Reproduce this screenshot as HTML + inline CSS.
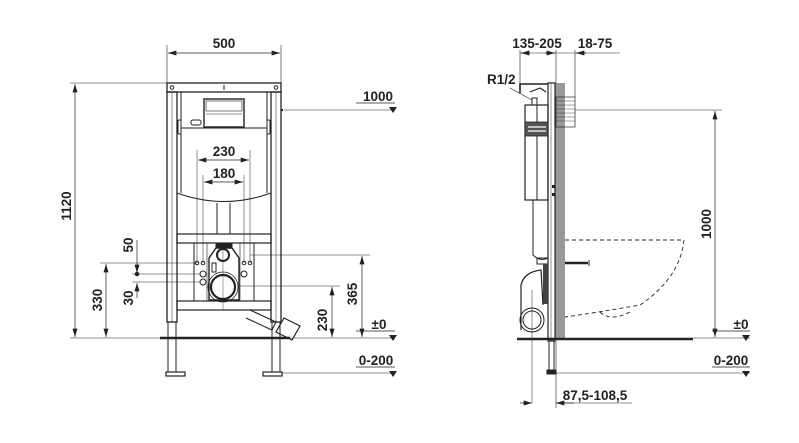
<!DOCTYPE html>
<html><head><meta charset="utf-8"><style>
html,body{margin:0;padding:0;background:#fff}
svg{display:block}
text{font-family:"Liberation Sans",sans-serif;font-weight:bold;font-size:13.5px;fill:#222}
</style></head><body>
<svg width="799" height="443" viewBox="0 0 799 443" xmlns="http://www.w3.org/2000/svg">
<defs>
<marker id="a" viewBox="0 0 10 6" refX="10" refY="3" markerWidth="9" markerHeight="5" orient="auto-start-reverse" markerUnits="userSpaceOnUse"><path d="M0,0L10,3L0,6z" fill="#222"/></marker>
</defs>
<g stroke="#222" fill="none" stroke-width="1">
<!-- ===== LEFT VIEW ===== -->
<!-- dimension 500 -->
<line x1="167" y1="45" x2="167" y2="83" stroke-width="0.6"/>
<line x1="281" y1="45" x2="281" y2="83" stroke-width="0.6"/>
<line x1="168" y1="53" x2="280" y2="53" stroke-width="0.7" marker-start="url(#a)" marker-end="url(#a)"/>
<!-- 1120 -->
<line x1="70" y1="83" x2="167" y2="83" stroke-width="0.6"/>
<line x1="70" y1="338" x2="160" y2="338" stroke-width="0.6"/>
<line x1="75" y1="84" x2="75" y2="337" stroke-width="0.7" marker-start="url(#a)" marker-end="url(#a)"/>
<!-- frame -->
<rect x="167" y="83" width="114" height="9" stroke-width="1.3"/>
<circle cx="172" cy="87.5" r="1.8"/><circle cx="276" cy="87.5" r="1.8"/>
<line x1="224" y1="85" x2="224" y2="90"/>
<rect x="167" y="92" width="10" height="230" stroke-width="1.3"/>
<rect x="271" y="92" width="10" height="230" stroke-width="1.3"/>
<line x1="172" y1="92" x2="172" y2="322" stroke-width="0.5"/>
<line x1="276" y1="92" x2="276" y2="322" stroke-width="0.5"/>
<line x1="177" y1="92" x2="177" y2="301"/>
<line x1="271" y1="92" x2="271" y2="301"/>
<rect x="178" y="120" width="3" height="14" rx="1"/>
<rect x="267" y="120" width="3" height="14" rx="1"/>
<line x1="282" y1="109" x2="282" y2="111" stroke-width="2"/>
<!-- cistern -->
<line x1="181" y1="92" x2="181" y2="193"/>
<line x1="267" y1="92" x2="267" y2="193"/>
<line x1="181" y1="128" x2="267" y2="128"/>
<rect x="204" y="99" width="40" height="28" stroke-width="1.4"/>
<rect x="206" y="101" width="36" height="10" stroke-width="0.6"/>
<line x1="206" y1="114" x2="242" y2="114" stroke-width="0.6"/>
<rect x="191" y="120" width="10" height="5" rx="2"/>
<path d="M177,193 Q224,210 271,193"/>
<line x1="217" y1="203" x2="217" y2="234"/>
<line x1="230" y1="203" x2="230" y2="234"/>
<!-- crossbars -->
<rect x="177" y="234" width="94" height="9" stroke-width="1.2"/>
<rect x="177" y="301" width="94" height="9" stroke-width="1.2"/>
<!-- inner bracket -->
<line x1="194" y1="243" x2="194" y2="301"/><line x1="254" y1="243" x2="254" y2="301"/>
<line x1="207" y1="243" x2="207" y2="301" stroke-width="0.6"/><line x1="240" y1="243" x2="240" y2="301" stroke-width="0.6"/>
<path d="M209,300 L209,258 L216,248 L232,248 L239,258 L239,300 Z" stroke-width="1.4"/>
<rect x="216" y="243" width="16" height="5" fill="#222"/>
<circle cx="223" cy="255" r="6" stroke-width="2"/>
<circle cx="223" cy="287" r="12" stroke-width="2.2"/>
<circle cx="223" cy="287" r="15" stroke-width="0.8"/>
<circle cx="197" cy="263" r="1.8"/><circle cx="203" cy="263" r="1.8"/>
<circle cx="244" cy="263" r="1.8"/><circle cx="250" cy="263" r="1.8"/>
<circle cx="203" cy="274" r="3"/><circle cx="203" cy="282" r="3"/>
<circle cx="244" cy="274" r="3"/>
<rect x="212" y="263" width="4" height="9"/>
<line x1="223" y1="250" x2="223" y2="310" stroke-width="0.4"/>
<!-- outlet pipe -->
<path d="M250,310 L276,322 L272,330 L246,318" stroke-width="1.1"/>
<path d="M284,318 L300,326 L292,340 L276,332 Z" stroke-width="1.2"/>
<!-- floor + legs -->
<line x1="160" y1="338" x2="290" y2="338" stroke-width="2.5"/>
<line x1="290" y1="338" x2="395" y2="338" stroke-width="0.6"/>
<line x1="168" y1="322" x2="168" y2="372"/><line x1="176" y1="322" x2="176" y2="372"/>
<line x1="272" y1="322" x2="272" y2="372"/><line x1="280" y1="322" x2="280" y2="372"/>
<rect x="166" y="372" width="19" height="4" stroke-width="1.2"/>
<rect x="263" y="372" width="19" height="4" stroke-width="1.2"/>
<line x1="282" y1="373" x2="395" y2="373" stroke-width="0.6"/>
<!-- 1000 -->
<line x1="284" y1="110" x2="395" y2="110" stroke-width="0.6"/>
<line x1="356" y1="103" x2="395" y2="103" stroke-width="0.7"/>
<!-- ±0 / 0-200 underline -->
<line x1="356" y1="331" x2="395" y2="331" stroke-width="0.7"/>
<line x1="356" y1="367" x2="395" y2="367" stroke-width="0.7"/>
<!-- 230/180 -->
<line x1="197" y1="150" x2="197" y2="263" stroke-width="0.5"/>
<line x1="250" y1="150" x2="250" y2="263" stroke-width="0.5"/>
<line x1="203" y1="175" x2="203" y2="263" stroke-width="0.5"/>
<line x1="244" y1="175" x2="244" y2="263" stroke-width="0.5"/>
<line x1="198" y1="160" x2="249" y2="160" stroke-width="0.7" marker-start="url(#a)" marker-end="url(#a)"/>
<line x1="204" y1="182" x2="243" y2="182" stroke-width="0.7" marker-start="url(#a)" marker-end="url(#a)"/>
<!-- left small dims -->
<line x1="100" y1="263" x2="197" y2="263" stroke-width="0.5"/>
<line x1="132" y1="274" x2="200" y2="274" stroke-width="0.5"/>
<line x1="132" y1="282" x2="200" y2="282" stroke-width="0.5"/>
<line x1="106" y1="264" x2="106" y2="337" stroke-width="0.7" marker-start="url(#a)" marker-end="url(#a)"/>
<line x1="137" y1="240" x2="137" y2="273" stroke-width="0.7" marker-end="url(#a)"/>
<line x1="137" y1="298" x2="137" y2="283" stroke-width="0.7" marker-end="url(#a)"/>
<circle cx="137" cy="274" r="1.8" fill="#222"/>
<!-- right small dims -->
<line x1="250" y1="255" x2="370" y2="255" stroke-width="0.5"/>
<line x1="240" y1="286" x2="340" y2="286" stroke-width="0.5"/>
<line x1="362" y1="256" x2="362" y2="337" stroke-width="0.7" marker-start="url(#a)" marker-end="url(#a)"/>
<line x1="332" y1="287" x2="332" y2="337" stroke-width="0.7" marker-start="url(#a)" marker-end="url(#a)"/>

<!-- ===== RIGHT VIEW ===== -->
<rect x="555" y="83" width="10" height="256" fill="#999" stroke="none"/>
<rect x="548" y="83" width="7" height="258" fill="#fff" stroke-width="1.2"/>
<line x1="551" y1="83" x2="551" y2="341" stroke-width="0.5"/>
<path d="M520,93 L520,84 L548,84" stroke-width="1.6"/>
<path d="M530,92 L540,88 L546,92" stroke-width="1.2"/>
<rect x="525" y="105" width="23" height="95" stroke-width="1.2"/>
<line x1="537" y1="105" x2="537" y2="200"/>
<rect x="525" y="122" width="23" height="14" fill="#555" stroke-width="0.8"/>
<line x1="528" y1="127" x2="546" y2="127" stroke="#fff" stroke-width="1.2"/>
<line x1="528" y1="131" x2="546" y2="131" stroke="#fff" stroke-width="1.2"/>
<rect x="532" y="98" width="5" height="7"/>
<path d="M533,200 L533,255 Q540,262 548,258 L548,200"/>
<rect x="537" y="258" width="11" height="6"/>
<rect x="543" y="264" width="5" height="40" fill="#444" stroke="none"/>
<path d="M521,330 L521,285 Q524,272 541,270 L543,305" stroke-width="1.2"/>
<ellipse cx="532" cy="320" rx="12" ry="12"/>
<ellipse cx="532" cy="320" rx="9" ry="9"/>
<line x1="532" y1="290" x2="532" y2="403" stroke-width="0.5"/>
<rect x="552" y="185" width="3" height="3" fill="#222" stroke="none"/>
<rect x="552" y="193" width="3" height="3" fill="#222" stroke="none"/>
<!-- hatched flush box -->
<rect x="556" y="97" width="19" height="30" stroke-width="0.7"/>
<g stroke-width="0.4"><line x1="556" y1="101" x2="575" y2="101"/><line x1="556" y1="105" x2="575" y2="105"/><line x1="556" y1="109" x2="575" y2="109"/><line x1="556" y1="113" x2="575" y2="113"/><line x1="556" y1="117" x2="575" y2="117"/><line x1="556" y1="121" x2="575" y2="121"/></g>
<!-- bolt -->
<line x1="565" y1="263" x2="588" y2="263" stroke-width="2.5"/>
<line x1="589" y1="260" x2="589" y2="266"/>
<!-- toilet dashed -->
<path d="M565,240 L684,240 Q680,278 640,305 Q600,312 565,317" stroke-dasharray="4,3" stroke-width="0.9"/>
<path d="M600,312 Q610,322 630,312" stroke-dasharray="4,3" stroke-width="0.9"/>
<!-- floor -->
<line x1="517" y1="339" x2="693" y2="339" stroke-width="2.5"/>
<line x1="693" y1="338" x2="750" y2="338" stroke-width="0.6"/>
<line x1="549" y1="341" x2="549" y2="370"/><line x1="554" y1="341" x2="554" y2="370"/>
<rect x="547" y="370" width="9" height="4" fill="#222"/>
<line x1="556" y1="373" x2="750" y2="373" stroke-width="0.6"/>
<line x1="712" y1="331" x2="750" y2="331" stroke-width="0.7"/>
<line x1="712" y1="367" x2="750" y2="367" stroke-width="0.7"/>
<!-- top dims -->
<line x1="520" y1="50" x2="520" y2="90" stroke-width="0.6"/>
<line x1="556" y1="50" x2="556" y2="83" stroke-width="0.6"/>
<line x1="575" y1="50" x2="575" y2="97" stroke-width="0.6"/>
<line x1="520" y1="53" x2="620" y2="53" stroke-width="0.6"/>
<line x1="521" y1="53" x2="530" y2="53" marker-start="url(#a)"/>
<line x1="545" y1="53" x2="555" y2="53" marker-end="url(#a)"/>
<line x1="576" y1="53" x2="586" y2="53" marker-start="url(#a)"/>
<!-- R1/2 leader -->
<line x1="510" y1="88" x2="532" y2="100" stroke-width="0.6"/>
<!-- 1000 -->
<line x1="575" y1="110" x2="722" y2="110" stroke-width="0.6"/>
<line x1="715" y1="111" x2="715" y2="337" stroke-width="0.7" marker-start="url(#a)" marker-end="url(#a)"/>
<!-- 87,5-108,5 -->
<line x1="556" y1="341" x2="556" y2="408" stroke-width="0.6"/>
<line x1="520" y1="403" x2="532" y2="403" stroke-width="0.7" marker-end="url(#a)"/>
<line x1="574" y1="403" x2="556" y2="403" stroke-width="0.7" marker-end="url(#a)"/>
<line x1="556" y1="403" x2="632" y2="403" stroke-width="0.6"/>
</g>
<g fill="#222">
<path d="M389,107 L397,107 L393,113 Z"/>
<path d="M389,335 L397,335 L393,341 Z"/>
<path d="M389,371 L397,371 L393,377 Z"/>
<path d="M742,335 L750,335 L746,341 Z"/>
<path d="M742,371 L750,371 L746,377 Z"/>
</g>
<text x="224" y="48" text-anchor="middle">500</text>
<text x="378" y="101" text-anchor="middle">1000</text>
<text x="224" y="156" text-anchor="middle">230</text>
<text x="224" y="178" text-anchor="middle">180</text>
<text x="379" y="329" text-anchor="middle">±0</text>
<text x="376" y="365" text-anchor="middle">0-200</text>
<text transform="translate(71,206) rotate(-90)" text-anchor="middle">1120</text>
<text transform="translate(102,300) rotate(-90)" text-anchor="middle">330</text>
<text transform="translate(133,245) rotate(-90)" text-anchor="middle">50</text>
<text transform="translate(133,298) rotate(-90)" text-anchor="middle">30</text>
<text transform="translate(327,320) rotate(-90)" text-anchor="middle">230</text>
<text transform="translate(357,294) rotate(-90)" text-anchor="middle">365</text>
<text x="537" y="48" text-anchor="middle">135-205</text>
<text x="595" y="48" text-anchor="middle">18-75</text>
<text x="487" y="84">R1/2</text>
<text transform="translate(711,224) rotate(-90)" text-anchor="middle">1000</text>
<text x="741" y="329" text-anchor="middle">±0</text>
<text x="731" y="365" text-anchor="middle">0-200</text>
<text x="595" y="400" text-anchor="middle">87,5-108,5</text>
</svg>
</body></html>
